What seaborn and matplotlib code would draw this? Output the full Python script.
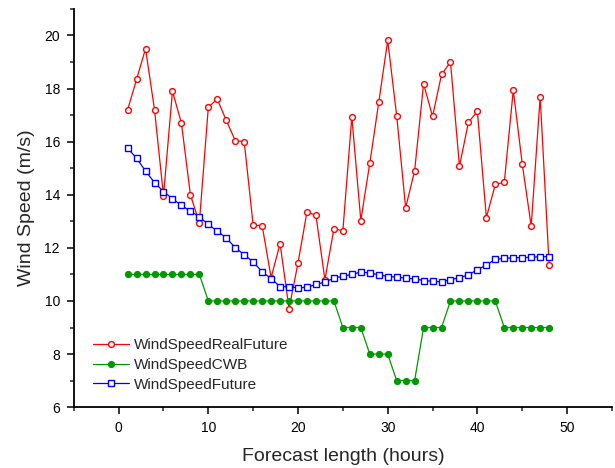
import numpy as np
import pandas as pd
import seaborn as sns
import matplotlib
matplotlib.use("Agg")
import matplotlib.pyplot as plt
from matplotlib.ticker import MultipleLocator

# forecast hours 1..48
hours = list(range(1, 49))

wind_real_future = [17.2, 18.35, 19.5, 17.2, 13.96, 17.9, 16.7, 14.0, 12.95, 17.3,
                    17.6, 16.8, 16.04, 16.0, 12.85, 12.84, 10.88, 12.16, 9.71, 11.43,
                    13.36, 13.22, 10.8, 12.72, 12.64, 16.94, 13.03, 15.18, 17.48, 19.81,
                    16.98, 13.51, 14.9, 18.18, 16.95, 18.53, 19.0, 15.07, 16.73, 17.14,
                    13.14, 14.39, 14.47, 17.94, 15.16, 12.82, 17.69, 11.35]

wind_cwb = [11, 11, 11, 11, 11, 11, 11, 11, 11, 10,
            10, 10, 10, 10, 10, 10, 10, 10, 10, 10,
            10, 10, 10, 10, 9, 9, 9, 8, 8, 8,
            7, 7, 7, 9, 9, 9, 10, 10, 10, 10,
            10, 10, 9, 9, 9, 9, 9, 9]

wind_future = [15.75, 15.38, 14.89, 14.46, 14.12, 13.85, 13.6, 13.38, 13.17, 12.88,
               12.63, 12.37, 12.01, 11.74, 11.47, 11.1, 10.84, 10.54, 10.54, 10.49,
               10.52, 10.62, 10.71, 10.86, 10.93, 11.0, 11.09, 11.05, 10.99, 10.92,
               10.9, 10.86, 10.83, 10.77, 10.74, 10.72, 10.8, 10.88, 10.98, 11.18,
               11.35, 11.57, 11.6, 11.63, 11.63, 11.65, 11.66, 11.67]

sns.set_style("ticks")
plt.rcParams['font.family'] = ['Liberation Sans', 'DejaVu Sans']

fig = plt.figure(figsize=(6.15, 4.68), dpi=100)
ax = fig.add_axes([0.120, 0.130, 0.875, 0.851])

sns.lineplot(x=hours, y=wind_real_future, ax=ax, color='#ff0000', lw=0.9,
             marker='o', markersize=4.2, markerfacecolor='white',
             markeredgecolor='#ff0000', markeredgewidth=1.0,
             label='WindSpeedRealFuture')
sns.lineplot(x=hours, y=wind_cwb, ax=ax, color='#009900', lw=0.9,
             marker='o', markersize=4.2, markerfacecolor='#009900',
             markeredgecolor='#009900', markeredgewidth=1.0,
             label='WindSpeedCWB')
sns.lineplot(x=hours, y=wind_future, ax=ax, color='#0000ff', lw=0.9,
             marker='s', markersize=3.8, markerfacecolor='white',
             markeredgecolor='#0000ff', markeredgewidth=1.0,
             label='WindSpeedFuture')

ax.set_xlim(-5, 55)
ax.set_ylim(6, 21)
ax.xaxis.set_major_locator(MultipleLocator(10))
ax.xaxis.set_minor_locator(MultipleLocator(5))
ax.yaxis.set_minor_locator(MultipleLocator(1))
ax.set_yticks([6, 8, 10, 12, 14, 16, 18, 20])

ax.tick_params(which='major', direction='out', length=5, width=1.1, labelsize=10,
               colors='black', pad=5)
ax.tick_params(which='minor', direction='out', length=3, width=1.1)
for side in ['left', 'bottom']:
    ax.spines[side].set_linewidth(1.3)
    ax.spines[side].set_color('black')
for side in ['top', 'right']:
    ax.spines[side].set_visible(False)

ax.set_xlabel('Forecast length (hours)', fontsize=14, labelpad=9)
ax.set_ylabel('Wind Speed (m/s)', fontsize=14, labelpad=7)

ax.legend(loc='center left', bbox_to_anchor=(0.151, 0.220),
          bbox_transform=fig.transFigure, frameon=False, fontsize=11,
          handlelength=2.35, handletextpad=0.35, labelspacing=0.38,
          borderpad=0, borderaxespad=0)

fig.savefig('out.png', dpi=100)
